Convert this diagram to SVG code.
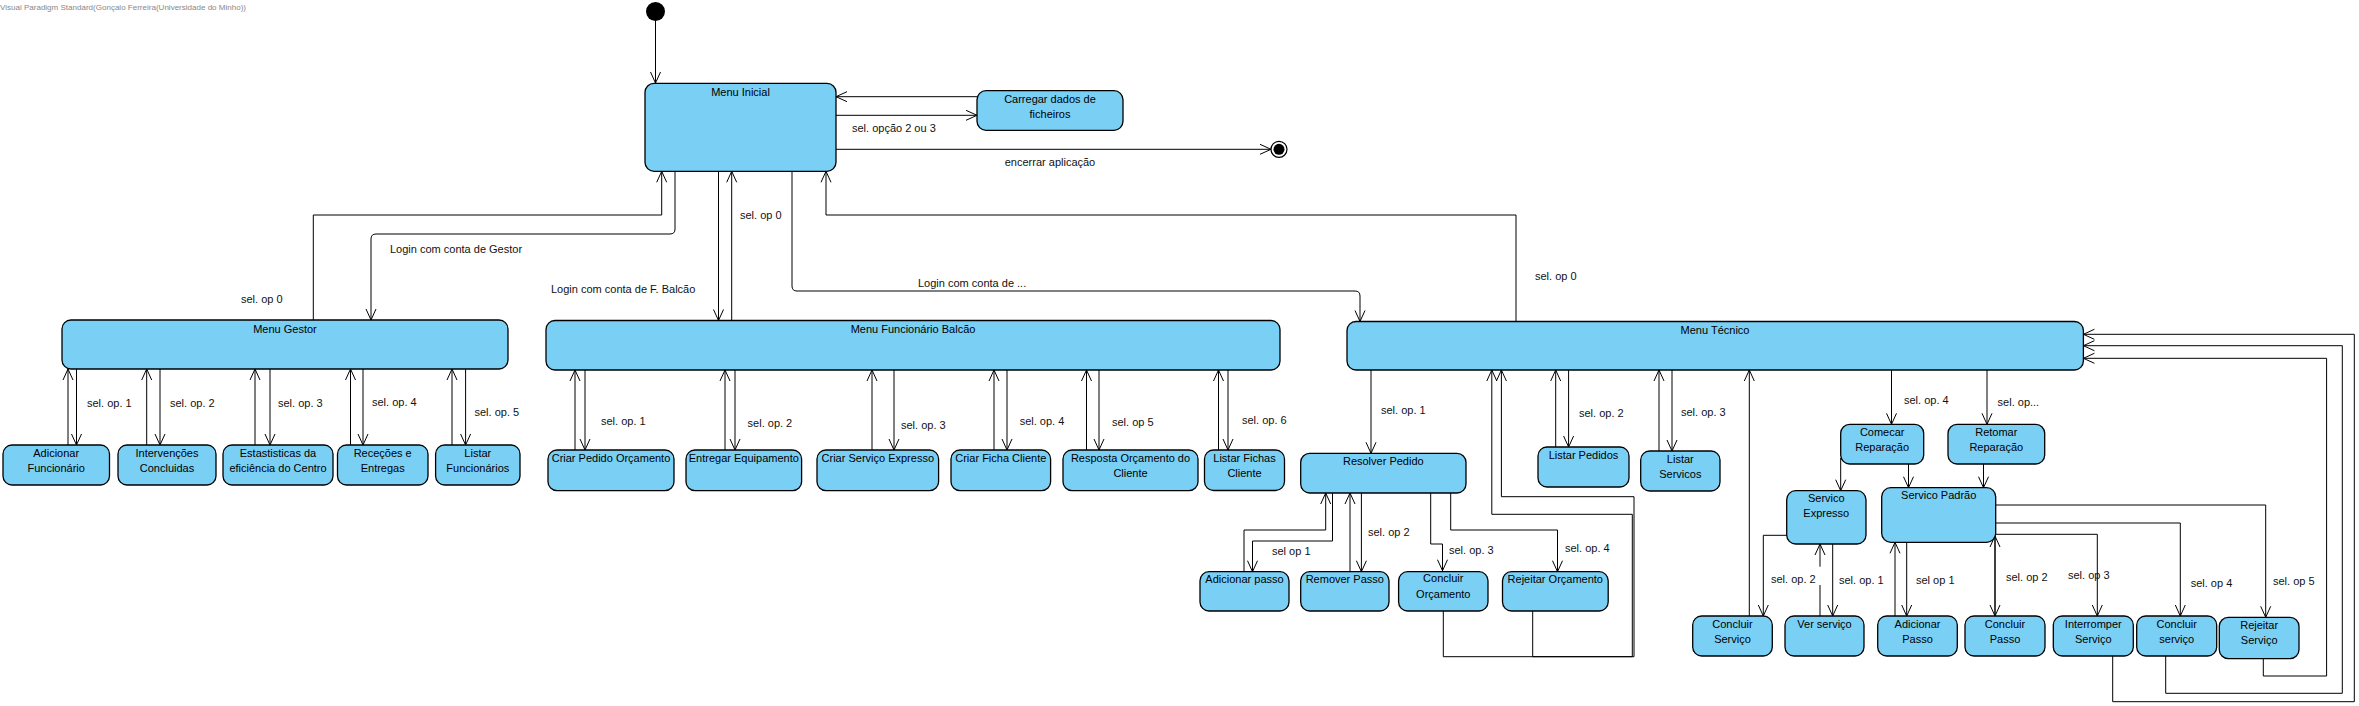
<svg xmlns="http://www.w3.org/2000/svg" width="2359" height="706" viewBox="0 0 2359 706">
<style>
.n{fill:#7ACFF5;stroke:#000;stroke-width:1.3}
.t{font-family:"Liberation Sans",Arial,sans-serif;font-size:11px;fill:#000;text-anchor:middle}
.l{font-family:"Liberation Sans",Arial,sans-serif;font-size:11px;fill:#111}
.c{fill:none;stroke:#000;stroke-width:1}
.a{marker-end:url(#ah)}
</style>
<defs>
<marker id="ah" viewBox="-12 -6 13 12" refX="0" refY="0" markerWidth="13" markerHeight="12" markerUnits="userSpaceOnUse" orient="auto">
<path d="M-11,-5 L0,0 L-11,5" fill="none" stroke="#000" stroke-width="1"/>
</marker>
</defs>
<rect width="2359" height="706" fill="#fff"/>
<text x="0" y="10" font-family="Liberation Sans, Arial, sans-serif" font-size="8" fill="#888" textLength="246" lengthAdjust="spacingAndGlyphs">Visual Paradigm Standard(Gonçalo Ferreira(Universidade do Minho))</text>

<g id="connectors">
<path class="c a" d="M655.5,20.5 V83"/>
<path class="c a" d="M977,96.7 H836"/>
<path class="c a" d="M836,115.3 H977"/>
<path class="c a" d="M836,149.3 H1271"/>
<path class="c a" d="M313.3,320 V215 H661.7 V171.3"/>
<path class="c a" d="M675,171.3 V229 Q675,234 670,234 H376 Q371,234 371,239 V320"/>
<path class="c a" d="M718.5,171.3 V320.5"/>
<path class="c a" d="M731.7,320.5 V171.3"/>
<path class="c a" d="M792,171.3 V286 Q792,291 797,291 H1355 Q1360,291 1360,296 V321.5"/>
<path class="c a" d="M1516,321.5 V215 H826 V171.3"/>

<path class="c a" d="M68,445 V369"/>
<path class="c a" d="M76.5,369 V445"/>
<path class="c a" d="M146.7,445 V369"/>
<path class="c a" d="M160,369 V445"/>
<path class="c a" d="M255,445 V369"/>
<path class="c a" d="M270,369 V445"/>
<path class="c a" d="M350.5,445 V369"/>
<path class="c a" d="M363,369 V445"/>
<path class="c a" d="M452,445 V369"/>
<path class="c a" d="M465.6,369 V445"/>

<path class="c a" d="M575,450 V370"/>
<path class="c a" d="M585,370 V450"/>
<path class="c a" d="M725,450 V370"/>
<path class="c a" d="M735,370 V450"/>
<path class="c a" d="M872,450 V370"/>
<path class="c a" d="M894,370 V450"/>
<path class="c a" d="M994,450 V370"/>
<path class="c a" d="M1007,370 V450"/>
<path class="c a" d="M1086.5,450 V370"/>
<path class="c a" d="M1099,370 V450"/>
<path class="c a" d="M1218.5,450 V370"/>
<path class="c a" d="M1228,370 V450"/>

<path class="c a" d="M1371,370 V453.3"/>
<path class="c a" d="M1555.7,447 V370"/>
<path class="c a" d="M1568.6,370 V447"/>
<path class="c a" d="M1659,451 V370"/>
<path class="c a" d="M1672,370 V451"/>
<path class="c a" d="M1244,571.7 V530 H1325.7 V493"/>
<path class="c a" d="M1332.5,493 V541 H1252.5 V571.7"/>
<path class="c a" d="M1350,571.7 V493"/>
<path class="c a" d="M1361.4,493 V571.7"/>
<path class="c a" d="M1430.7,493 V544 H1442.5 V570.7"/>
<path class="c a" d="M1450.7,493 V530 H1557.5 V571.7"/>
<path class="c a" d="M1443.3,611 V656.7 H1632.3 V514.3 H1491.8 V370"/>
<path class="c a" d="M1532.7,611 V656.7 H1634 V496.7 H1501.4 V370"/>

<path class="c a" d="M1891.5,370 V424.3"/>
<path class="c a" d="M1987,370 V424.3"/>
<path class="c a" d="M1840.7,458 V490.7"/>
<path class="c a" d="M1908.5,464 V487.7"/>
<path class="c a" d="M1983.5,464 V487.7"/>
<path class="c a" d="M1786.7,535.3 H1763.3 V616"/>
<path class="c a" d="M1749.3,616 V370"/>
<path class="c a" d="M1820,616 V585 M1820,566.7 V544"/>
<path class="c a" d="M1832.7,544 V616"/>
<path class="c a" d="M1895,616 V542.3"/>
<path class="c a" d="M1906.7,542.3 V616"/>
<path class="c a" d="M1995,616 V536"/>
<path class="c a" d="M1995,536 V616"/>
<path class="c a" d="M1995.7,534.3 H2097.3 V616"/>
<path class="c a" d="M1995.7,523 H2180.3 V616"/>
<path class="c a" d="M1995.7,505 H2265.7 V617.3"/>
<path class="c a" d="M2112.7,656 V701.7 H2354.3 V334.3 H2083.4"/>
<path class="c a" d="M2165.7,656 V693.3 H2342.3 V345.7 H2083.4"/>
<path class="c a" d="M2263.3,658.7 V676 H2326.6 V358.3 H2083.4"/>

<text class="l" x="852" y="131.5">sel. opção 2 ou 3</text>
<text class="l" x="1050" y="166" text-anchor="middle">encerrar aplicação</text>
<text class="l" x="241" y="303">sel. op 0</text>
<text class="l" x="390" y="253">Login com conta de Gestor</text>
<text class="l" x="551" y="293">Login com conta de F. Balcão</text>
<text class="l" x="740" y="219">sel. op 0</text>
<text class="l" x="918" y="287">Login com conta de ...</text>
<text class="l" x="1535" y="279.5">sel. op 0</text>

<text class="l" x="87" y="407">sel. op. 1</text>
<text class="l" x="170" y="407">sel. op. 2</text>
<text class="l" x="278" y="407">sel. op. 3</text>
<text class="l" x="372" y="406">sel. op. 4</text>
<text class="l" x="474.5" y="416">sel. op. 5</text>

<text class="l" x="601" y="425">sel. op. 1</text>
<text class="l" x="747.6" y="427">sel. op. 2</text>
<text class="l" x="901" y="429">sel. op. 3</text>
<text class="l" x="1019.7" y="425">sel. op. 4</text>
<text class="l" x="1112" y="425.5">sel. op 5</text>
<text class="l" x="1242" y="424">sel. op. 6</text>

<text class="l" x="1381" y="414">sel. op. 1</text>
<text class="l" x="1579" y="417">sel. op. 2</text>
<text class="l" x="1681" y="416">sel. op. 3</text>
<text class="l" x="1272" y="555">sel op 1</text>
<text class="l" x="1368" y="536">sel. op 2</text>
<text class="l" x="1449" y="554">sel. op. 3</text>
<text class="l" x="1565" y="551.5">sel. op. 4</text>

<text class="l" x="1904" y="404">sel. op. 4</text>
<text class="l" x="1997.6" y="405.5">sel. op...</text>
<text class="l" x="1771" y="583">sel. op. 2</text>
<text class="l" x="1839" y="584">sel. op. 1</text>
<text class="l" x="1916" y="584">sel op 1</text>
<text class="l" x="2006" y="581">sel. op 2</text>
<text class="l" x="2068" y="579">sel. op 3</text>
<text class="l" x="2190.7" y="587">sel. op 4</text>
<text class="l" x="2273" y="585">sel. op 5</text>
</g>

<g id="initial"><circle cx="655.5" cy="11.5" r="9.5" fill="#000"/></g>
<g id="final"><circle cx="1279" cy="149.3" r="8" fill="#fff" stroke="#000" stroke-width="1.2"/><circle cx="1279" cy="149.3" r="5.5" fill="#000"/></g>

<g id="menu-inicial"><rect class="n" x="645" y="83.3" width="191" height="88" rx="9"/><text class="t" x="740.5" y="95.5">Menu Inicial</text></g>
<g id="carregar"><rect class="n" x="977" y="90.7" width="146" height="39.6" rx="9"/><text class="t" x="1050" y="103">Carregar dados de</text><text class="t" x="1050" y="117.5">ficheiros</text></g>

<g id="menu-gestor"><rect class="n" x="62" y="320" width="446" height="49" rx="9"/><text class="t" x="285" y="333">Menu Gestor</text></g>
<g id="menu-balcao"><rect class="n" x="546" y="320.5" width="734" height="49.5" rx="9"/><text class="t" x="913" y="333">Menu Funcionário Balcão</text></g>
<g id="menu-tecnico"><rect class="n" x="1347" y="321.5" width="736.4" height="48.5" rx="9"/><text class="t" x="1715" y="333.5">Menu Técnico</text></g>

<g id="adicionar-funcionario"><rect class="n" x="3" y="445" width="106.5" height="40" rx="9"/><text class="t" x="56.2" y="457.3">Adicionar</text><text class="t" x="56.2" y="472.3">Funcionário</text></g>
<g id="intervencoes"><rect class="n" x="118" y="445" width="98" height="40" rx="9"/><text class="t" x="167" y="457.3">Intervenções</text><text class="t" x="167" y="472.3">Concluidas</text></g>
<g id="estatisticas"><rect class="n" x="223" y="445" width="110" height="40" rx="9"/><text class="t" x="278" y="457.3">Estastisticas da</text><text class="t" x="278" y="472.3">eficiência do Centro</text></g>
<g id="rececoes"><rect class="n" x="337.5" y="445" width="90.5" height="40" rx="9"/><text class="t" x="382.7" y="457.3">Receções e</text><text class="t" x="382.7" y="472.3">Entregas</text></g>
<g id="listar-funcionarios"><rect class="n" x="435.6" y="445" width="84.4" height="40" rx="9"/><text class="t" x="477.8" y="457.3">Listar</text><text class="t" x="477.8" y="472.3">Funcionários</text></g>

<g id="criar-pedido"><rect class="n" x="548" y="450" width="126" height="40.7" rx="9"/><text class="t" x="611" y="461.5">Criar Pedido Orçamento</text></g>
<g id="entregar"><rect class="n" x="686" y="450" width="115.6" height="40.7" rx="9"/><text class="t" x="743.8" y="461.5">Entregar Equipamento</text></g>
<g id="criar-servico"><rect class="n" x="817" y="450" width="121.6" height="40.7" rx="9"/><text class="t" x="877.8" y="461.5">Criar Serviço Expresso</text></g>
<g id="criar-ficha"><rect class="n" x="951" y="450" width="99.6" height="40.7" rx="9"/><text class="t" x="1000.8" y="461.5">Criar Ficha Cliente</text></g>
<g id="resposta"><rect class="n" x="1063" y="450" width="135" height="40.7" rx="9"/><text class="t" x="1130.5" y="461.5">Resposta Orçamento do</text><text class="t" x="1130.5" y="477">Cliente</text></g>
<g id="listar-fichas"><rect class="n" x="1204.5" y="450" width="80" height="40.5" rx="9"/><text class="t" x="1244.5" y="461.5">Listar Fichas</text><text class="t" x="1244.5" y="477">Cliente</text></g>

<g id="resolver-pedido"><rect class="n" x="1300.7" y="453.3" width="165.3" height="39.7" rx="9"/><text class="t" x="1383.3" y="465">Resolver Pedido</text></g>
<g id="adicionar-passo-rp"><rect class="n" x="1200" y="571.7" width="89" height="39.3" rx="9"/><text class="t" x="1244.5" y="583">Adicionar passo</text></g>
<g id="remover-passo"><rect class="n" x="1300.7" y="571.7" width="88.3" height="39.3" rx="9"/><text class="t" x="1344.8" y="583">Remover Passo</text></g>
<g id="concluir-orcamento"><rect class="n" x="1398.6" y="571.7" width="89.4" height="39.3" rx="9"/><text class="t" x="1443.3" y="582">Concluir</text><text class="t" x="1443.3" y="597.5">Orçamento</text></g>
<g id="rejeitar-orcamento"><rect class="n" x="1502.5" y="571.7" width="105.7" height="39.3" rx="9"/><text class="t" x="1555.3" y="583">Rejeitar Orçamento</text></g>
<g id="listar-pedidos"><rect class="n" x="1538" y="447" width="91" height="40" rx="9"/><text class="t" x="1583.5" y="459">Listar Pedidos</text></g>
<g id="listar-servicos"><rect class="n" x="1640.7" y="451" width="79.3" height="40" rx="9"/><text class="t" x="1680.3" y="463">Listar</text><text class="t" x="1680.3" y="478">Servicos</text></g>

<g id="comecar"><rect class="n" x="1840.7" y="424.3" width="83" height="39.7" rx="9"/><text class="t" x="1882.2" y="436">Comecar</text><text class="t" x="1882.2" y="451">Reparação</text></g>
<g id="retomar"><rect class="n" x="1948" y="424.3" width="96.7" height="39.7" rx="9"/><text class="t" x="1996.3" y="436">Retomar</text><text class="t" x="1996.3" y="451">Reparação</text></g>
<g id="servico-expresso"><rect class="n" x="1786.7" y="490.7" width="79.3" height="53.3" rx="9"/><text class="t" x="1826.3" y="502">Servico</text><text class="t" x="1826.3" y="517">Expresso</text></g>
<g id="servico-padrao"><rect class="n" x="1881.7" y="487.7" width="114" height="54.6" rx="9"/><text class="t" x="1938.7" y="499">Servico Padrão</text></g>

<g id="concluir-servico-e"><rect class="n" x="1692.7" y="616" width="79.6" height="40" rx="9"/><text class="t" x="1732.5" y="628">Concluir</text><text class="t" x="1732.5" y="643">Serviço</text></g>
<g id="ver-servico"><rect class="n" x="1785" y="616" width="79" height="40" rx="9"/><text class="t" x="1824.5" y="628">Ver serviço</text></g>
<g id="adicionar-passo"><rect class="n" x="1877.7" y="616" width="79.6" height="40" rx="9"/><text class="t" x="1917.5" y="628">Adicionar</text><text class="t" x="1917.5" y="643">Passo</text></g>
<g id="concluir-passo"><rect class="n" x="1965" y="616" width="80" height="40" rx="9"/><text class="t" x="2005" y="628">Concluir</text><text class="t" x="2005" y="643">Passo</text></g>
<g id="interromper"><rect class="n" x="2053.3" y="616" width="80" height="40" rx="9"/><text class="t" x="2093.3" y="628">Interromper</text><text class="t" x="2093.3" y="643">Serviço</text></g>
<g id="concluir-servico-p"><rect class="n" x="2136.7" y="616" width="80" height="40" rx="9"/><text class="t" x="2176.7" y="628">Concluir</text><text class="t" x="2176.7" y="643">serviço</text></g>
<g id="rejeitar-servico"><rect class="n" x="2219.3" y="617.3" width="79.7" height="41.4" rx="9"/><text class="t" x="2259.2" y="629">Rejeitar</text><text class="t" x="2259.2" y="644">Serviço</text></g>
</svg>
